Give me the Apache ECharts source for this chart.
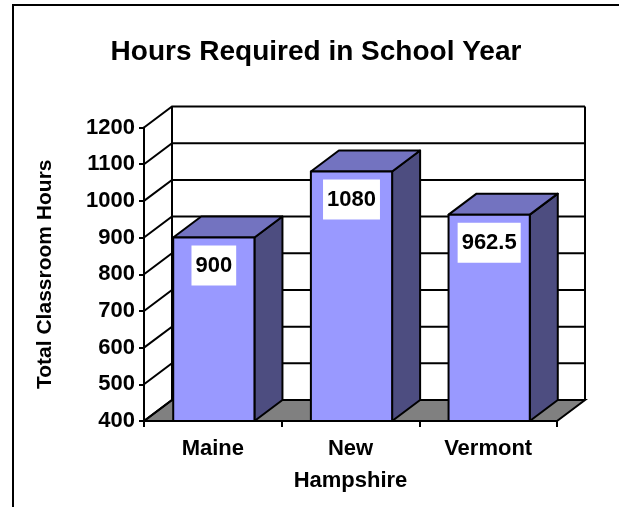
<!DOCTYPE html>
<html><head><meta charset="utf-8">
<script src="https://cdn.jsdelivr.net/npm/echarts@6/dist/echarts.min.js"></script>
<style>html,body{margin:0;padding:0;background:#fff}#c{width:619px;height:507px}</style>
</head><body><div id="c"></div>
<script>
const categories = ['Maine', 'New Hampshire', 'Vermont'];
const hours = [900, 1080, 962.5];
const yMin = 400, yMax = 1200, yStep = 100;
const yTicks = [400, 500, 600, 700, 800, 900, 1000, 1100, 1200];
const titleText = 'Hours Required in School Year';
const yTitle = 'Total Classroom Hours';

const FONT = '"Liberation Sans", Arial, sans-serif';
const DX = 28, DY = -21;
const LINE = '#000', LW = 2;

const chart = echarts.init(document.getElementById('c'), null, {renderer: 'canvas'});

function wallItem(params, api) {
  const cs = params.coordSys;
  const v = api.value(1);
  const y = api.coord([0, v])[1];
  const x0 = cs.x, x1 = cs.x + cs.width;
  const children = [];
  if (params.dataIndex === 0) {
    const yTop = api.coord([0, yMax])[1];
    const yBot = api.coord([0, yMin])[1];
    children.push({type: 'polygon', shape: {points: [[x0, yBot], [x1, yBot], [x1 + DX, yBot + DY], [x0 + DX, yBot + DY]]},
      style: {fill: '#808080', stroke: LINE, lineWidth: LW}});
    children.push({type: 'line', shape: {x1: x0 + DX, y1: yTop + DY, x2: x0 + DX, y2: yBot + DY}, style: {stroke: LINE, lineWidth: LW}});
    children.push({type: 'line', shape: {x1: x1 + DX, y1: yTop + DY, x2: x1 + DX, y2: yBot + DY}, style: {stroke: LINE, lineWidth: LW}});
  }
  children.push({type: 'polyline', shape: {points: [[x0, y], [x0 + DX, y + DY], [x1 + DX, y + DY]]},
    style: {stroke: LINE, lineWidth: LW, fill: null}});
  return {type: 'group', children: children};
}

function barItem(params, api) {
  const i = api.value(0), v = api.value(1);
  const top = api.coord([i, v]);
  const base = api.coord([i, yMin]);
  const bw = api.size([1, 0])[0] * 0.59;
  const xl = top[0] - bw / 2 + 1, xr = xl + bw, ty = top[1], by = base[1];
  const st = {stroke: LINE, lineWidth: LW, lineJoin: 'round'};
  return {type: 'group', children: [
    {type: 'polygon', shape: {points: [[xr, by], [xr + DX, by + DY], [xr + DX, ty + DY], [xr, ty]]}, style: Object.assign({fill: '#4D4D80'}, st)},
    {type: 'polygon', shape: {points: [[xl, ty], [xr, ty], [xr + DX, ty + DY], [xl + DX, ty + DY]]}, style: Object.assign({fill: '#7373C0'}, st)},
    {type: 'rect', shape: {x: xl, y: ty, width: bw, height: by - ty}, style: Object.assign({fill: '#9999FF'}, st)},
    {type: 'text', x: (xl + xr) / 2, y: ty + 28, style: {text: String(v), font: 'bold 22px ' + FONT, fill: '#000',
      align: 'center', verticalAlign: 'middle', backgroundColor: '#fff', padding: [9, 4]}}
  ]};
}

const option = {
  animation: false,
  backgroundColor: '#fff',
  grid: {left: 144, right: 62, top: 127.5, bottom: 86, containLabel: false},
  xAxis: {
    type: 'category', data: categories,
    axisLine: {show: true, lineStyle: {color: '#000', width: 2}},
    axisTick: {show: true, length: 6, lineStyle: {color: '#000', width: 2}},
    axisLabel: {color: '#000', fontFamily: FONT, fontWeight: 'bold', fontSize: 22, margin: 12, lineHeight: 32,
      interval: 0, hideOverlap: false,
      formatter: function (v) { return v.replace(' ', '\n'); }},
    splitLine: {show: false}
  },
  yAxis: {
    type: 'value', min: yMin, max: yMax, interval: yStep,
    name: yTitle, nameLocation: 'middle', nameGap: 88, nameRotate: 90,
    nameTextStyle: {color: '#000', fontFamily: FONT, fontWeight: 'bold', fontSize: 21},
    axisLine: {show: true, lineStyle: {color: '#000', width: 2}},
    axisTick: {show: true, length: 5, lineStyle: {color: '#000', width: 2}},
    axisLabel: {color: '#000', fontFamily: FONT, fontWeight: 'bold', fontSize: 22, margin: 9,
      formatter: function (v) { return String(v); }},
    splitLine: {show: false}
  },
  graphic: [
    {type: 'rect', shape: {x: 13, y: 5, width: 900, height: 900}, style: {fill: null, stroke: '#000', lineWidth: 2}, z: 100},
    {type: 'text', x: 316, y: 52, style: {text: titleText, font: 'bold 28px ' + FONT, fill: '#000', align: 'center', verticalAlign: 'middle'}}
  ],
  series: [
    {type: 'custom', name: 'walls', data: yTicks.map(function (v) { return [0, v]; }), renderItem: wallItem,
      encode: {x: 0, y: 1}, z: 1, silent: true},
    {type: 'custom', name: 'Hours', data: hours.map(function (v, i) { return [i, v]; }), renderItem: barItem,
      encode: {x: 0, y: 1}, z: 3}
  ]
};
chart.setOption(option);
</script>
</body></html>
